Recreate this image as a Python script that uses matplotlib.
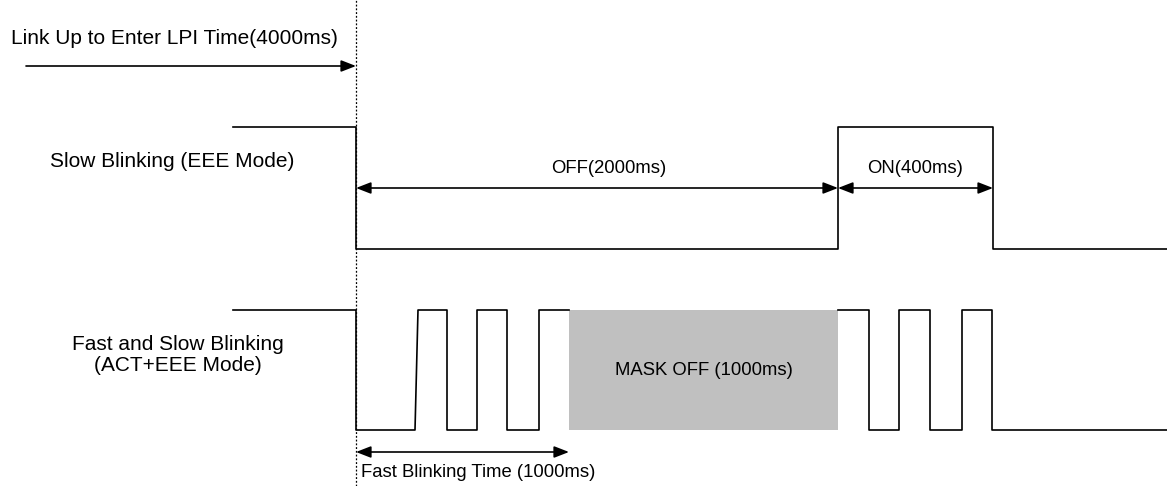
import matplotlib

matplotlib.use("Agg")
import matplotlib.pyplot as plt

# waveform edges (x positions) and levels
SLOW_X = [233, 356, 356, 838, 838, 993, 993, 1167]
SLOW_Y = ["hi", "hi", "lo", "lo", "hi", "hi", "lo", "lo"]

FAST_X = [233, 356, 356, 415, 418, 447, 447, 477, 477, 507, 507, 539, 539, 569]
FAST_Y = ["hi", "hi", "lo", "lo", "hi", "hi", "lo", "lo", "hi", "hi", "lo", "lo", "hi", "hi"]
FAST2_X = [838, 869, 869, 899, 899, 930, 930, 962, 962, 992, 992, 1167]
FAST2_Y = ["hi", "hi", "lo", "lo", "hi", "hi", "lo", "lo", "hi", "hi", "lo", "lo"]

MASK_SPAN = (569, 838)
MARKER_X = 356
LINK_ARROW = (26, 356)
OFF_ARROW = (356, 838)
ON_ARROW = (838, 993)
FAST_ARROW = (356, 569)

SLOW_LEVELS = {"hi": 127, "lo": 249}
FAST_LEVELS = {"hi": 310, "lo": 430}

plt.rcParams["font.family"] = ["Liberation Sans", "DejaVu Sans"]

fig = plt.figure(figsize=(11.67, 4.86), dpi=100, facecolor="white")
ax = fig.add_axes([0, 0, 1, 1])
ax.set_xlim(0, 1167)
ax.set_ylim(486, 0)
ax.axis("off")

LW = 1.2
ax.plot(SLOW_X, [SLOW_LEVELS[v] for v in SLOW_Y], color="black", lw=LW)
ax.plot(FAST_X, [FAST_LEVELS[v] for v in FAST_Y], color="black", lw=LW)
ax.plot(FAST2_X, [FAST_LEVELS[v] for v in FAST2_Y], color="black", lw=LW)

ax.fill_between(MASK_SPAN, FAST_LEVELS["hi"], FAST_LEVELS["lo"], color="#C0C0C0", lw=0)

ax.axvline(MARKER_X, color="black", lw=0.9, ls=(0, (1.5, 1.5)))


def arrow(x0, x1, y, both=True):
    style = "<|-|>" if both else "-|>"
    ax.annotate("", xy=(x1, y), xytext=(x0, y),
                arrowprops=dict(arrowstyle=style + ",head_length=0.9,head_width=0.35",
                                color="black", lw=LW, shrinkA=0, shrinkB=0))


arrow(*LINK_ARROW, 66, both=False)
arrow(*OFF_ARROW, 188)
arrow(*ON_ARROW, 188)
arrow(*FAST_ARROW, 452)

FS = 15
FS_SMALL = 13.3
ax.text(11, 38, "Link Up to Enter LPI Time(4000ms)", ha="left", va="center", fontsize=FS)
ax.text(172, 161, "Slow Blinking (EEE Mode)", ha="center", va="center", fontsize=FS)
ax.text(178, 355, "Fast and Slow Blinking\n(ACT+EEE Mode)", ha="center", va="center",
        fontsize=FS, linespacing=1.1)
ax.text(609, 168, "OFF(2000ms)", ha="center", va="center", fontsize=FS_SMALL)
ax.text(sum(ON_ARROW) / 2, 168, "ON(400ms)", ha="center", va="center", fontsize=FS_SMALL)
ax.text(sum(MASK_SPAN) / 2, 370, "MASK OFF (1000ms)", ha="center", va="center", fontsize=FS_SMALL)
ax.text(361, 472, "Fast Blinking Time (1000ms)", ha="left", va="center", fontsize=FS_SMALL)

fig.savefig("out.png", dpi=100, facecolor="white")
